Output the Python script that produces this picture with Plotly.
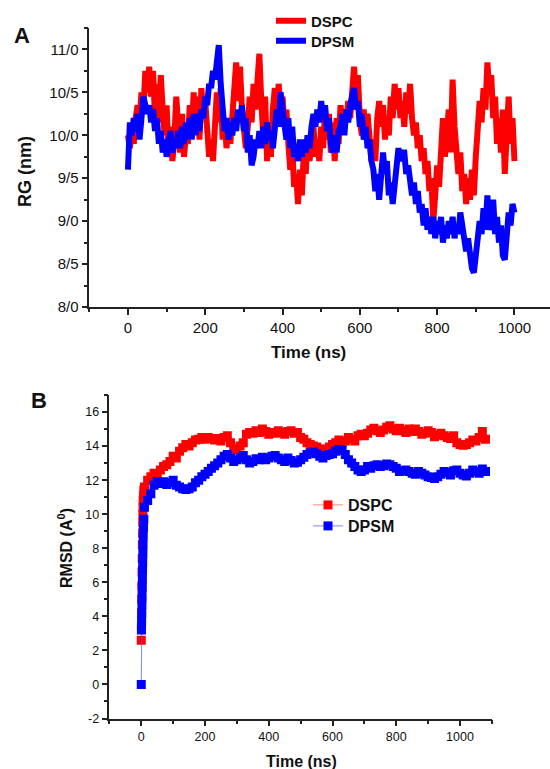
import plotly.graph_objects as go

# ---------------- Panel A : RG (nm) vs time ----------------
time_a = list(range(0, 1001, 5))

rg_dspc = [
    10.0, 9.85, 10.1, 9.9, 10.2, 10.35, 10.15, 10.5, 10.3, 10.75,
    10.5, 10.8, 10.45, 10.75, 10.2, 10.6, 10.15, 10.7, 10.3, 10.0,
    10.35, 9.8, 10.1, 9.7, 9.95, 10.45, 10.1, 9.8, 10.25, 9.75,
    10.0, 9.9, 10.35, 10.0, 10.5, 10.1, 10.45, 9.95, 10.55, 10.2,
    10.4, 9.9, 9.75, 9.95, 9.7, 10.1, 10.5, 10.15, 10.55, 9.95,
    10.2, 9.85, 10.1, 9.9, 10.3, 10.5, 10.85, 10.4, 10.8, 10.3,
    10.05, 9.85, 10.1, 10.45, 10.15, 10.6, 10.3, 10.7, 10.95, 10.4,
    10.0, 10.45, 9.7, 10.1, 9.75, 10.3, 10.55, 10.2, 10.6, 10.25,
    10.45, 10.1, 10.3, 9.9, 9.6, 9.85, 9.4, 9.55, 9.2, 9.6,
    9.3, 9.8, 9.55, 10.0, 9.7, 9.95, 10.1, 9.75, 9.95, 9.7,
    10.1, 9.85, 10.3, 9.95, 10.25, 9.8, 10.15, 9.7, 10.2, 9.9,
    10.35, 10.1, 10.3, 10.15, 10.4, 10.2, 10.6, 10.8, 10.45, 10.7,
    10.2, 10.0, 10.3, 9.95, 10.25, 9.9, 9.7, 9.95, 9.7, 10.2,
    10.4, 10.1, 10.35, 9.95, 10.2, 10.0, 10.45, 10.2, 10.6, 10.3,
    10.55, 10.2, 10.4, 10.1, 10.5, 10.25, 10.6, 10.2, 10.0, 10.15,
    9.85, 10.0, 9.7, 9.85, 9.55, 9.7, 9.35, 9.5, 9.0, 9.3,
    9.65, 9.4, 9.8, 10.2, 9.75, 10.0, 10.3, 9.8, 10.65, 10.1,
    9.85, 9.55, 9.8, 9.35, 9.55, 9.2, 9.5, 9.25, 9.6, 9.3,
    9.75, 10.1, 10.4, 10.15, 10.55, 10.3, 10.85, 10.5, 10.7, 10.2,
    10.45, 9.9, 10.2, 9.8, 10.3, 9.55, 10.0, 10.45, 9.9, 10.2,
    9.7,
]

rg_dpsm = [
    9.6, 10.15, 10.0, 10.2, 10.05, 10.25, 9.95, 10.2, 10.45, 10.35,
    10.25, 10.35, 10.15, 10.3, 10.05, 10.2, 9.9, 10.05, 9.8, 9.95,
    9.75, 9.9, 10.05, 9.8, 9.95, 9.85, 10.05, 9.85, 10.1, 9.9,
    10.15, 9.95, 10.2, 9.95, 10.25, 10.0, 10.25, 10.05, 10.3, 10.2,
    10.45, 10.35, 10.6, 10.55, 10.75, 10.65, 10.9, 11.05, 10.6, 10.35,
    10.05, 10.2, 9.95, 10.15, 10.0, 10.2, 10.05, 10.3, 10.15, 10.35,
    10.05, 10.2, 9.8, 10.0, 9.65, 9.75, 9.95, 9.85, 10.05, 9.85,
    10.1, 9.9, 10.15, 9.95, 10.05, 9.85, 10.2, 10.3, 10.1, 10.5,
    10.3, 10.15, 9.95, 10.2, 9.85, 10.1, 9.75, 9.9, 9.7, 9.95,
    9.75, 9.95, 9.8, 10.0, 9.85, 10.1, 10.25, 10.1, 10.3, 10.15,
    10.4, 10.2, 10.35, 10.05, 10.2, 9.9, 9.8, 10.0, 9.8, 10.05,
    10.1, 10.25, 10.0, 10.3, 10.15, 10.35, 10.45, 10.55, 10.3, 10.4,
    10.1, 10.25, 9.95, 10.1, 9.85, 9.95, 9.7, 9.6, 9.35, 9.55,
    9.25, 9.6, 9.8, 9.55, 9.7, 9.3, 9.45, 9.2, 9.4, 9.55,
    9.85, 9.7, 9.8, 9.8, 9.55, 9.65, 9.45, 9.3, 9.45, 9.2,
    9.35, 9.1, 9.2, 8.95, 9.15, 8.9, 9.05, 8.85, 9.05, 8.8,
    9.0, 8.85, 9.05, 8.75, 8.95, 8.8, 9.0, 8.85, 9.05, 8.8,
    8.95, 8.85, 9.1, 8.9, 8.8, 8.65, 8.8, 8.55, 8.45, 8.4,
    8.6, 8.8, 9.0, 8.85, 9.15, 8.9, 9.3, 8.9, 9.0, 9.25,
    8.85, 9.05, 8.75, 8.95, 8.6, 8.55, 8.95, 9.1, 8.95, 9.2,
    9.1,
]

# ---------------- Panel B : RMSD (A0) vs time ----------------
time_b_start = [0, 0.5, 1, 1.5, 2, 2.5, 3, 3.5, 4, 4.5, 5, 5.5, 6, 7, 8]
time_b = time_b_start + list(range(10, 1081, 10))

rmsd_dspc = [
    2.6, 3.4, 4.2, 5.0, 5.8, 6.6, 7.4, 8.2, 8.9, 9.5, 10.0, 10.4, 10.8, 11.1, 11.4,
    11.6, 12.0, 12.2, 12.4, 12.3, 12.6, 12.8, 12.9, 13.1, 13.4,
    13.3, 13.7, 13.9, 14.1, 14.0, 14.2, 14.35, 14.4, 14.5, 14.4,
    14.5, 14.45, 14.35, 14.45, 14.3, 14.5, 14.6, 14.2, 13.85, 13.8,
    14.0, 14.2, 14.7, 14.8, 14.75, 14.9, 14.8, 15.0, 14.85, 14.7,
    14.8, 14.75, 14.9, 14.8, 14.7, 14.85, 14.9, 14.75, 14.8, 14.5,
    14.4, 14.2, 14.1, 14.0, 13.95, 13.85, 13.75, 13.8, 13.95, 14.1,
    14.2, 14.35, 14.2, 14.3, 14.5, 14.4, 14.3, 14.6, 14.7, 14.6,
    14.75, 14.95, 15.05, 14.9, 14.8, 14.95, 15.1, 15.2, 15.0, 14.9,
    15.05, 14.9, 14.8, 15.0, 14.85, 15.0, 14.85, 14.7, 14.75, 14.9,
    14.8, 14.55, 14.65, 14.75, 14.6, 14.5, 14.45, 14.6, 14.2, 14.1,
    14.05, 14.1, 14.2, 14.35, 14.3, 14.5, 14.85, 14.4,
]

rmsd_dpsm = [
    0.0, 3.2, 3.7, 4.2, 4.7, 5.2, 5.7, 6.2, 6.7, 7.2, 7.7, 8.2, 8.7, 9.2, 9.7,
    10.4, 10.8, 11.2, 11.7, 11.9, 11.8, 11.9, 11.75, 11.85, 12.0,
    11.7, 11.6, 11.5, 11.45, 11.5, 11.6, 11.85, 12.0, 12.2, 12.35,
    12.5, 12.7, 12.85, 13.0, 13.2, 13.4, 13.5, 13.3, 13.1, 13.2,
    13.3, 13.45, 13.2, 13.0, 13.1, 13.25, 13.2, 13.35, 13.2, 13.3,
    13.4, 13.45, 13.3, 13.2, 13.1, 13.3, 13.15, 13.0, 13.05, 13.2,
    13.35, 13.5, 13.6, 13.65, 13.55, 13.4, 13.3, 13.45, 13.5, 13.55,
    13.7, 13.8, 13.75, 13.5, 13.2, 13.0, 12.8, 12.6, 12.5, 12.6,
    12.8, 12.7, 12.85, 12.9, 12.8, 12.85, 12.95, 12.9, 12.8, 12.7,
    12.5, 12.55, 12.6, 12.5, 12.4, 12.35, 12.5, 12.4, 12.3, 12.2,
    12.15, 12.1, 12.2, 12.35, 12.5, 12.45, 12.3, 12.55, 12.6, 12.4,
    12.3, 12.25, 12.4, 12.6, 12.5, 12.4, 12.65, 12.5,
]

a_yticks = [8.0, 8.5, 9.0, 9.5, 10.0, 10.5, 11.0]
a_yticktext = ["8/0", "8/5", "9/0", "9/5", "10/0", "10/5", "11/0"]
x_ticks = [0, 200, 400, 600, 800, 1000]
b_yticks = [-2, 0, 2, 4, 6, 8, 10, 12, 14, 16]
b_yticktext = ["-2", "0", "2", "4", "6", "8", "10", "12", "14", "16"]

FONT = "Arial, Liberation Sans, sans-serif"
AXC = "#222222"

fig = go.Figure()

fig.add_trace(go.Scatter(x=time_a, y=rg_dspc, mode="lines", name="DSPC",
                         line=dict(color="#ff0000", width=6),
                         xaxis="x", yaxis="y", legend="legend"))
fig.add_trace(go.Scatter(x=time_a, y=rg_dpsm, mode="lines", name="DPSM",
                         line=dict(color="#0000ff", width=6),
                         xaxis="x", yaxis="y", legend="legend3"))

fig.add_trace(go.Scatter(x=time_b, y=rmsd_dspc, mode="lines+markers", name="DSPC",
                         line=dict(color="rgba(255,80,80,0.7)", width=1),
                         marker=dict(symbol="square", size=9, color="#ff0000",
                                     line=dict(width=0)),
                         xaxis="x2", yaxis="y2", legend="legend2"))
fig.add_trace(go.Scatter(x=time_b, y=rmsd_dpsm, mode="lines+markers", name="DPSM",
                         line=dict(color="rgba(80,80,255,0.7)", width=1),
                         marker=dict(symbol="square", size=9, color="#0000ff",
                                     line=dict(width=0)),
                         xaxis="x2", yaxis="y2", legend="legend4"))

# layout positions are expressed in reference pixels (550 x 769)
REF_W, REF_H = 550, 769
FIG_W, FIG_H = 550, 777


def px_x(p):
    return p / REF_W


def px_y(p):
    return 1 - p / REF_H


axis_common = dict(showline=True, linecolor=AXC, linewidth=1.5, ticks="outside",
                   ticklen=6, tickwidth=1.5, tickcolor=AXC, showgrid=False,
                   zeroline=False, mirror=False)


def legend_at(xp, yp, size):
    return dict(x=px_x(xp), y=px_y(yp), xanchor="left", yanchor="middle",
                font=dict(size=size, family=FONT, weight="bold", color="#111111"),
                bgcolor="rgba(0,0,0,0)", borderwidth=0, tracegroupgap=0,
                itemwidth=30)


fig.update_layout(
    width=FIG_W, height=FIG_H,
    margin=dict(l=0, r=0, t=0, b=0),
    paper_bgcolor="white", plot_bgcolor="white",
    hovermode=False,
    font=dict(family=FONT, color="#111111"),
    xaxis=dict(domain=[px_x(89.3), 1.0], range=[-100, 1092], anchor="y",
               tickvals=x_ticks, tickfont=dict(size=15),
               minor=dict(tickvals=[-100, 100, 300, 500, 700, 900, 1100],
                          ticklen=3.5, tickwidth=1.5, tickcolor=AXC, ticks="outside"),
               **axis_common),
    yaxis=dict(domain=[px_y(307), px_y(28)], range=[8, 11.25], anchor="x",
               tickvals=a_yticks, ticktext=a_yticktext, tickfont=dict(size=15),
               minor=dict(tickvals=[8.25, 8.75, 9.25, 9.75, 10.25, 10.75, 11.25],
                          ticklen=3.5, tickwidth=1.5, tickcolor=AXC, ticks="outside"),
               **axis_common),
    xaxis2=dict(domain=[px_x(109.4), px_x(491.9)], range=[-100, 1100], anchor="y2",
                tickvals=x_ticks, tickfont=dict(size=12.5),
                minor=dict(tickvals=[-100, 100, 300, 500, 700, 900, 1100],
                           ticklen=3.5, tickwidth=1.5, tickcolor=AXC, ticks="outside"),
                **axis_common),
    yaxis2=dict(domain=[px_y(718.5), px_y(395)], range=[-2, 17], anchor="x2",
                tickvals=b_yticks, ticktext=b_yticktext, tickfont=dict(size=12.5),
                minor=dict(tickvals=[-1, 1, 3, 5, 7, 9, 11, 13, 15, 17],
                           ticklen=3.5, tickwidth=1.5, tickcolor=AXC, ticks="outside"),
                **axis_common),
    legend=legend_at(271, 21, 15),
    legend3=legend_at(271, 41, 15),
    legend2=legend_at(308, 505, 16),
    legend4=legend_at(308, 526, 16),
    showlegend=True,
)

ann = [
    dict(text="<b>A</b>", x=px_x(22), y=px_y(35), font=dict(size=22)),
    dict(text="<b>B</b>", x=px_x(39), y=px_y(400), font=dict(size=22)),
    dict(text="<b>RG (nm)</b>", x=px_x(25), y=px_y(172), font=dict(size=18), textangle=-90),
    dict(text="<b>Time (ns)</b>", x=px_x(308), y=px_y(352), font=dict(size=17)),
    dict(text="<b>RMSD (A<sup>0</sup>)</b>", x=px_x(65), y=px_y(548), font=dict(size=16), textangle=-90),
    dict(text="<b>Time (ns)</b>", x=px_x(301), y=px_y(761), font=dict(size=16)),
]
for a in ann:
    a.update(xref="paper", yref="paper", showarrow=False, xanchor="center", yanchor="middle")
    a["font"].update(family=FONT, color="#111111")
fig.update_layout(annotations=ann)

# remove the browser's default 8px body margin; hide the mode bar
fig.write_html("out.html", config={"displayModeBar": False},
               post_script="document.body.style.margin='0';document.body.style.overflow='hidden';")
